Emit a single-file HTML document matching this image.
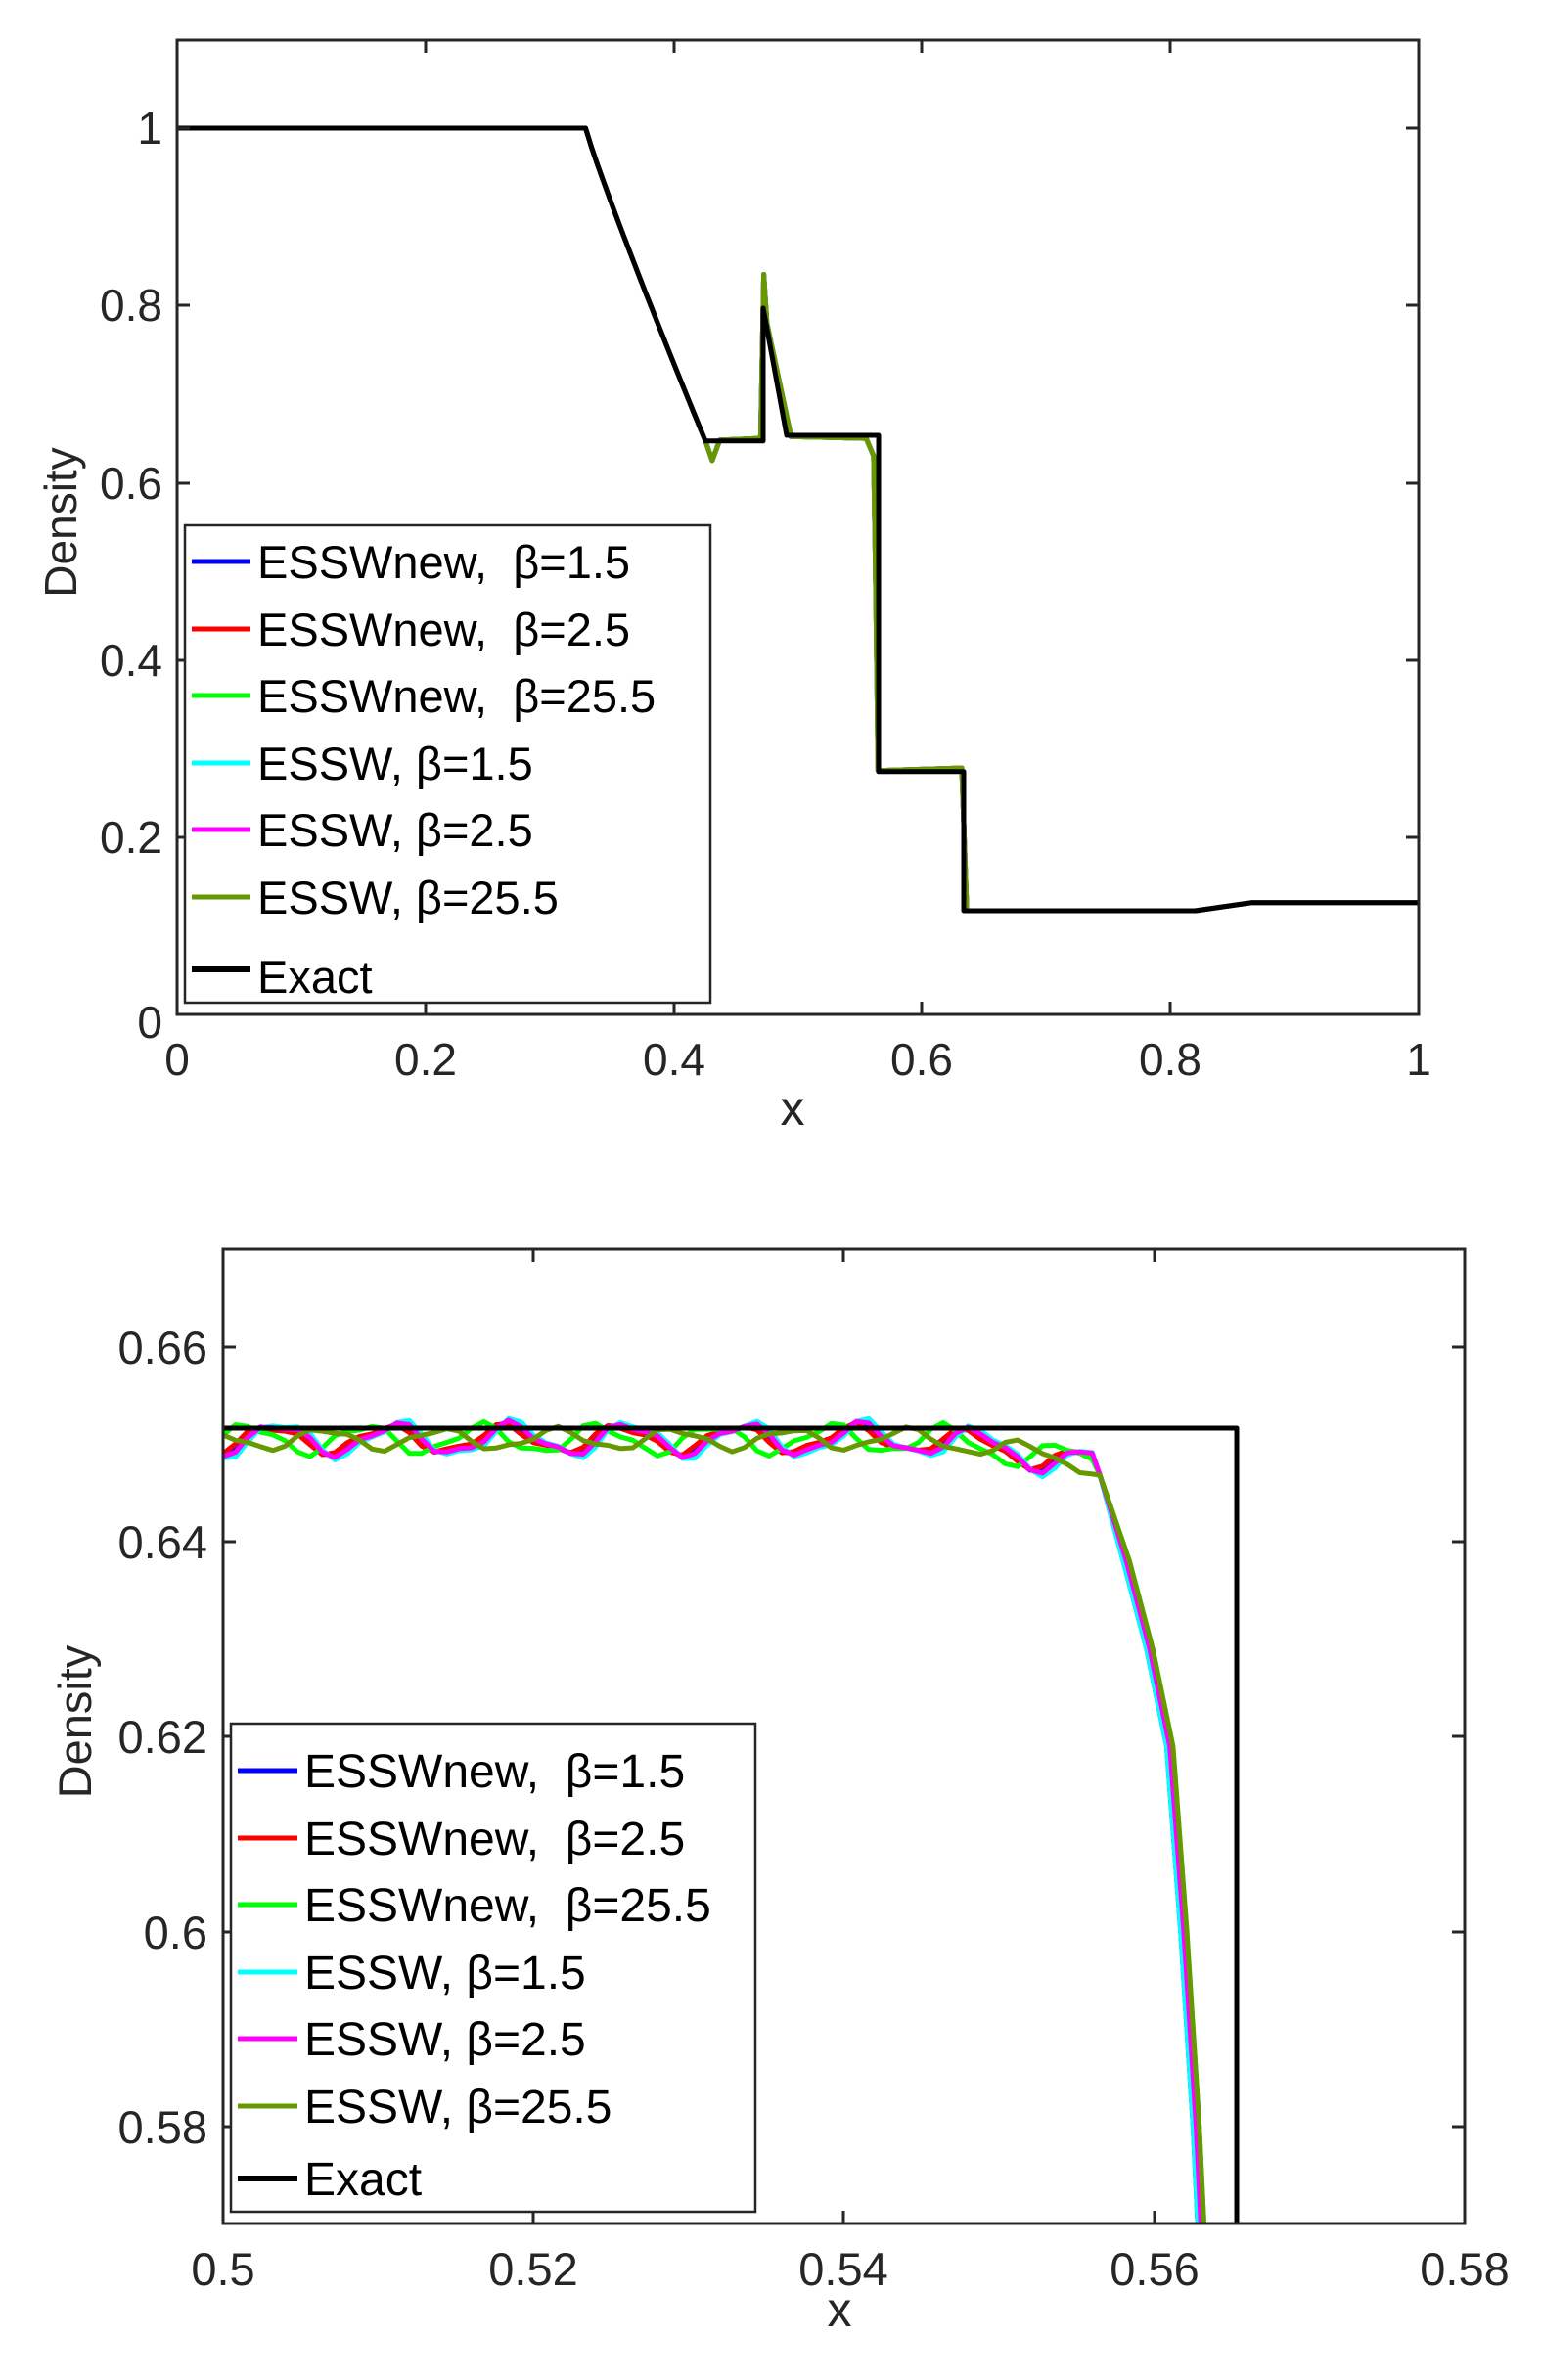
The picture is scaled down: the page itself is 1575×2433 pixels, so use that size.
<!DOCTYPE html>
<html><head><meta charset="utf-8"><style>
html,body{margin:0;padding:0;background:#fff;width:1575px;height:2433px;overflow:hidden;}
svg{display:block;}
text{font-family:"Liberation Sans",sans-serif;}
</style></head><body>
<svg id="s" width="1575" height="2433" viewBox="0 0 1575 2433" xmlns="http://www.w3.org/2000/svg">
<rect width="1575" height="2433" fill="#fff"/>
<g id="top"></g>
<g stroke="#262626" stroke-width="3" fill="none">
<rect x="181" y="41" width="1269" height="996"/>
<path d="M181,131h13M181,312h13M181,494h13M181,675h13M181,856h13M1450,131h-13M1450,312h-13M1450,494h-13M1450,675h-13M1450,856h-13
M435,1037v-13M689,1037v-13M942,1037v-13M1196,1037v-13M435,41v13M689,41v13M942,41v13M1196,41v13"/>
</g>
<g font-size="46" fill="#262626" text-anchor="end">
<text x="166" y="147">1</text><text x="166" y="328">0.8</text><text x="166" y="510">0.6</text>
<text x="166" y="691">0.4</text><text x="166" y="872">0.2</text><text x="166" y="1061">0</text>
</g>
<g font-size="46" fill="#262626" text-anchor="middle">
<text x="181" y="1099">0</text><text x="435" y="1099">0.2</text><text x="689" y="1099">0.4</text>
<text x="942" y="1099">0.6</text><text x="1196" y="1099">0.8</text><text x="1450" y="1099">1</text>
<text x="810" y="1150" font-size="50">x</text>
<text transform="translate(78,534) rotate(-90)">Density</text>
</g>
<rect x="189" y="537" width="537" height="488" fill="#fff" stroke="#262626" stroke-width="2.5"/>
<g stroke-width="5">
<line x1="196" y1="574" x2="256" y2="574" stroke="#0000ff"/>
<line x1="196" y1="643" x2="256" y2="643" stroke="#ff0000"/>
<line x1="196" y1="711" x2="256" y2="711" stroke="#00ff00"/>
<line x1="196" y1="780" x2="256" y2="780" stroke="#00ffff"/>
<line x1="196" y1="848" x2="256" y2="848" stroke="#ff00ff"/>
<line x1="196" y1="917" x2="256" y2="917" stroke="#669900"/>
<line x1="196" y1="991" x2="256" y2="991" stroke="#000" stroke-width="6"/>
</g>
<g font-size="47" fill="#000">
<text x="263" y="591">ESSWnew,&#160;&#160;β=1.5</text>
<text x="263" y="660">ESSWnew,&#160;&#160;β=2.5</text>
<text x="263" y="728">ESSWnew,&#160;&#160;β=25.5</text>
<text x="263" y="797">ESSW, β=1.5</text>
<text x="263" y="865">ESSW, β=2.5</text>
<text x="263" y="934">ESSW, β=25.5</text>
<text x="263" y="1015">Exact</text>
</g>

<g id="bot"></g>
<g stroke="#262626" stroke-width="3" fill="none">
<rect x="228" y="1277" width="1269" height="996"/>
<path d="M228,1377h13M228,1576h13M228,1775h13M228,1975h13M228,2174h13M1497,1377h-13M1497,1576h-13M1497,1775h-13M1497,1975h-13M1497,2174h-13
M545,2273v-13M862,2273v-13M1180,2273v-13M545,1277v13M862,1277v13M1180,1277v13"/>
</g>
<g font-size="47" fill="#262626" text-anchor="end">
<text x="212" y="1394">0.66</text><text x="212" y="1593">0.64</text><text x="212" y="1792">0.62</text>
<text x="212" y="1992">0.6</text><text x="212" y="2191">0.58</text>
</g>
<g font-size="47" fill="#262626" text-anchor="middle">
<text x="228" y="2336">0.5</text><text x="545" y="2336">0.52</text><text x="862" y="2336">0.54</text>
<text x="1180" y="2336">0.56</text><text x="1497" y="2336">0.58</text>
<text x="858" y="2378" font-size="50">x</text>
<text transform="translate(93,1760) rotate(-90)">Density</text>
</g>
<rect x="236" y="1762" width="536" height="499" fill="#fff" stroke="#262626" stroke-width="2.5"/>
<g stroke-width="5">
<line x1="243" y1="1810" x2="304" y2="1810" stroke="#0000ff"/>
<line x1="243" y1="1879" x2="304" y2="1879" stroke="#ff0000"/>
<line x1="243" y1="1947" x2="304" y2="1947" stroke="#00ff00"/>
<line x1="243" y1="2016" x2="304" y2="2016" stroke="#00ffff"/>
<line x1="243" y1="2084" x2="304" y2="2084" stroke="#ff00ff"/>
<line x1="243" y1="2153" x2="304" y2="2153" stroke="#669900"/>
<line x1="243" y1="2227" x2="304" y2="2227" stroke="#000" stroke-width="6"/>
</g>
<g font-size="48" fill="#000">
<text x="311" y="1827">ESSWnew,&#160;&#160;β=1.5</text>
<text x="311" y="1896">ESSWnew,&#160;&#160;β=2.5</text>
<text x="311" y="1964">ESSWnew,&#160;&#160;β=25.5</text>
<text x="311" y="2033">ESSW, β=1.5</text>
<text x="311" y="2101">ESSW, β=2.5</text>
<text x="311" y="2170">ESSW, β=25.5</text>
<text x="311" y="2244">Exact</text>
</g>
</svg>
<script>
(function(){
var NS="http://www.w3.org/2000/svg";
function pl(g,pts,col,w){var p=document.createElementNS(NS,"polyline");
p.setAttribute("points",pts.map(function(a){return a[0].toFixed(1)+","+a[1].toFixed(1)}).join(" "));
p.setAttribute("fill","none");p.setAttribute("stroke",col);p.setAttribute("stroke-width",w);
p.setAttribute("stroke-linejoin","round");g.appendChild(p);}
var gt=document.getElementById("top");
function TX(x){return 181+1269*x;} function TY(y){return 1037-906*y;}
function rare(){var a=[];for(var i=0;i<=20;i++){var t=i/20;var x=0.329+t*(0.4255-0.329);var y=1-(1-0.647)*Math.pow(t,0.93);a.push([TX(x),TY(y)]);}return a;}
var cols=["#0000ff","#ff0000","#00ff00","#00ffff","#ff00ff","#669900"];
for(var c=0;c<6;c++){
 var a=[[TX(0),TY(1)]].concat(rare());
 a=a.concat([[TX(0.431),TY(0.625)],[TX(0.437),TY(0.648)],[TX(0.470),TY(0.650)],[TX(0.4725),TY(0.835)],[TX(0.475),TY(0.78)],[TX(0.4945),TY(0.652)],
 [TX(0.555),TY(0.650)],[TX(0.561),TY(0.63)],[TX(0.5625),TY(0.5)],[TX(0.5645),TY(0.275)],[TX(0.632),TY(0.278)],[TX(0.634),TY(0.2)],[TX(0.636),TY(0.117)],
 [TX(0.82),TY(0.117)],[TX(0.865),TY(0.126)],[TX(1),TY(0.126)]]);
 pl(gt,a,cols[c],5);
}
var e=[[TX(0),TY(1)]].concat(rare()).concat([[780,TY(0.647)],[780,315],[804,445],[898,445],[898,TY(0.274)],[985,TY(0.274)],[985,TY(0.117)],[1222,TY(0.117)],[1279,TY(0.126)],[1450,TY(0.126)]]);
pl(gt,e,"#000",5);
var gb=document.getElementById("bot");
function BX(x){return 228+15862*(x-0.5);} function BY(y){return 1277+(0.67-y)*9960;}
var ph=[-1.2,-1.0,0.2,-1.6,-1.4,2.4], amp=[0.0014,0.0013,0.0014,0.0017,0.0015,0.0010], sh=[0,0.0001,0.0004,0,0.0002,0.0004];
for(var c=0;c<6;c++){
 var a=[];
 for(var x=0.5;x<=0.5562;x+=0.0008){
  var base=0.6505; if(x>0.546) base-= (x-0.546)*0.25;
  var t=2*Math.PI*(x-0.5)/0.0075;
  var y=base+amp[c]*(Math.sin(t+ph[c])+0.3*Math.sin(2.3*t+ph[c]*1.7));
  a.push([BX(x),BY(y)]);
 }
 var s=sh[c];
 a=a.concat([[BX(0.5565),BY(0.6468)],[BX(0.558+s),BY(0.638)],[BX(0.5595+s),BY(0.629)],[BX(0.5608+s),BY(0.619)],[BX(0.5617+s),BY(0.60)],[BX(0.5625+s),BY(0.58)],[BX(0.5628+s),BY(0.57)]]);
 pl(gb,a,cols[c],5);
}
pl(gb,[[228,1460],[1264,1460],[1264,2273]],"#000",5);
})();
</script>
</body></html>
